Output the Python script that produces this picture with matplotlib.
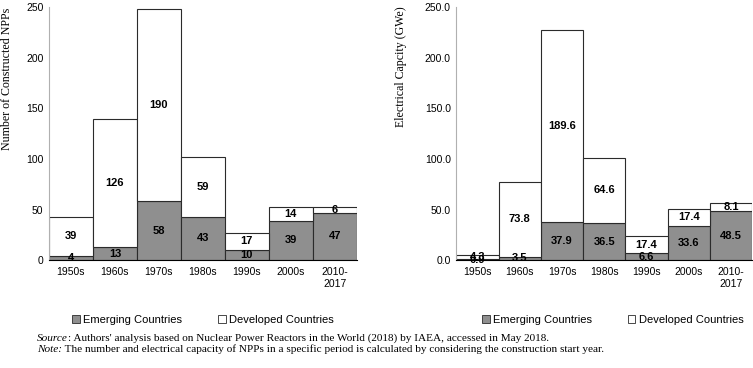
import numpy as np
import matplotlib
matplotlib.use('Agg')
import matplotlib.pyplot as plt
from matplotlib.patches import Patch

plt.rcParams['font.family'] = 'Liberation Sans'

periods = ['1950s', '1960s', '1970s', '1980s', '1990s', '2000s', '2010-\n2017']
npp_emerging = [4, 13, 58, 43, 10, 39, 47]
npp_developed = [39, 126, 190, 59, 17, 14, 6]
cap_emerging = [0.9, 3.5, 37.9, 36.5, 6.6, 33.6, 48.5]
cap_developed = [4.3, 73.8, 189.6, 64.6, 17.4, 17.4, 8.1]

gray = '#8f8f8f'
edge = '#2b2b2b'

fig = plt.figure(figsize=(7.53, 3.68), dpi=100)
ax1 = fig.add_axes([0.065, 0.293, 0.409, 0.688])
ax2 = fig.add_axes([0.606, 0.293, 0.393, 0.688])


def draw(ax, emerging, developed, fmt, yfmt):
    x = np.arange(len(periods))
    em = np.array(emerging)
    dv = np.array(developed)
    ax.bar(x, em, width=1.0, color=gray, edgecolor=edge, linewidth=0.8)
    ax.bar(x, dv, width=1.0, bottom=em, color='white', edgecolor=edge, linewidth=0.8)
    for i in range(len(x)):
        ax.text(x[i], em[i] / 2, fmt.format(em[i]), ha='center', va='center',
                fontsize=8, fontweight='bold')
        ax.text(x[i], em[i] + dv[i] / 2, fmt.format(dv[i]), ha='center', va='center',
                fontsize=8, fontweight='bold')
    ax.set_xlim(-0.5, len(x) - 0.5)
    ax.set_ylim(0, 250)
    ax.set_yticks([0, 50, 100, 150, 200, 250])
    ax.set_yticklabels([yfmt.format(v) for v in [0, 50, 100, 150, 200, 250]])
    ax.set_xticks(x)
    ax.set_xticklabels(periods)
    ax.tick_params(axis='both', length=0, labelsize=7.5, pad=5)
    ax.tick_params(axis='y', pad=4)
    for s in ['top', 'right']:
        ax.spines[s].set_visible(False)
    ax.spines['left'].set_color('#b0b0b0')
    ax.spines['bottom'].set_color('black')


draw(ax1, npp_emerging, npp_developed, '{:.0f}', '{:.0f}')
draw(ax2, cap_emerging, cap_developed, '{:.1f}', '{:.1f}')

# y labels (anchored at their lower end, as in the reference)
fig.text(0.009, 1 - 150 / 368, 'Number of Constructed NPPs', rotation=90, ha='center',
         va='bottom', family='Liberation Serif', fontsize=8.6)
fig.text(0.532, 1 - 127 / 368, 'Electrical Capcity (GWe)', rotation=90, ha='center',
         va='bottom', family='Liberation Serif', fontsize=8.6)

handles = [Patch(facecolor=gray, edgecolor=edge, linewidth=0.6, label='Emerging Countries'),
           Patch(facecolor='white', edgecolor=edge, linewidth=0.6, label='Developed Countries')]
for xpos in [0.096, 0.640]:
    fig.legend(handles=handles, loc='center left', bbox_to_anchor=(xpos, 0.13), ncol=2,
               frameon=False, fontsize=8, handlelength=0.7, handleheight=0.7,
               handletextpad=0.3, columnspacing=3.2, borderpad=0, borderaxespad=0)

t1 = fig.text(0.049, 0.073, 'Source', style='italic', family='Liberation Serif', fontsize=8.1,
              va='baseline')
ax1.annotate(": Authors' analysis based on Nuclear Power Reactors in the World (2018) by IAEA, accessed in May 2018.",
             xy=(1, 0), xycoords=t1, va='bottom', ha='left', family='Liberation Serif', fontsize=8.1)
t2 = fig.text(0.049, 0.043, 'Note:', style='italic', family='Liberation Serif', fontsize=8.1,
              va='baseline')
ax1.annotate(' The number and electrical capacity of NPPs in a specific period is calculated by considering the construction start year.',
             xy=(1, 0), xycoords=t2, va='bottom', ha='left', family='Liberation Serif', fontsize=8.1)

fig.savefig('out.png', dpi=100)
